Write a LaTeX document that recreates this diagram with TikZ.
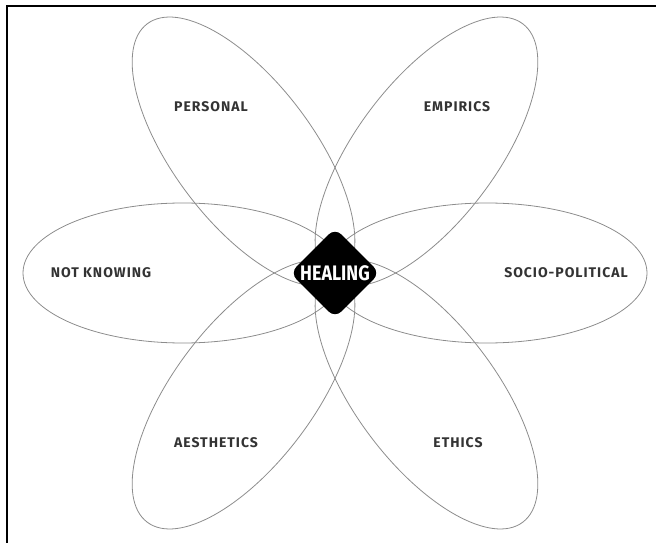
\documentclass[tikz,border=0pt]{standalone}
\usepackage{fontspec}
\setmainfont{Fira Sans}
\newfontfamily\petalfont[LetterSpace=7]{Fira Sans}
\newfontfamily\hubfont[FakeStretch=0.85]{Fira Sans}
\usetikzlibrary{shapes.geometric}

\begin{document}
\begin{tikzpicture}[x=1pt,y=1pt,
  petal/.style={ellipse,draw=gray!90,line width=0.8pt,inner sep=0pt,
    minimum width=320pt,minimum height=140pt},
  petal label/.style={text=black!80,font=\petalfont\bfseries\fontsize{14}{16}\selectfont},
  hub/.style={diamond,fill=black,rounded corners=9pt,inner sep=0pt,minimum size=90pt},
  hub label/.style={text=white,font=\hubfont\bfseries\fontsize{21}{23}\selectfont}]

  \useasboundingbox (0,0) rectangle (656,542);
  \draw[line width=1.4pt] (7,-5) -- (7,536) -- (661,536);

  % the six petals
  \coordinate (c) at (335,269);
  \foreach \ang/\name in {0/right,53/topright,127/topleft,180/left,233/bottomleft,307/bottomright}
    \node[petal,rotate=\ang] (petal-\name) at ([shift={(\ang:152)}]c) {};

  % centre
  \node[hub] (hub) at (c) {};
  \node[hub label] (healing) at (hub) {HEALING};

  \node[petal label] (personal) at (211,435) {PERSONAL};
  \node[petal label] (empirics) at (457,435) {EMPIRICS};
  \node[petal label] (notknowing) at (101,269) {NOT KNOWING};
  \node[petal label] (sociopol) at (566,269) {SOCIO-POLITICAL};
  \node[petal label] (aesthetics) at (216,99) {AESTHETICS};
  \node[petal label] (ethics) at (458,99) {ETHICS};
\end{tikzpicture}
\end{document}
